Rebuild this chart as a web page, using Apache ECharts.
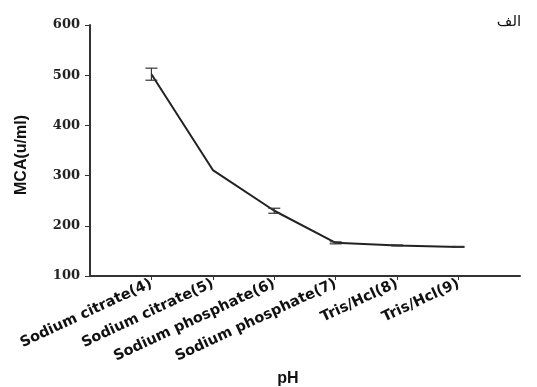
<!DOCTYPE html>
<html>
<head>
<meta charset="utf-8">
<script src="https://cdn.jsdelivr.net/npm/echarts@6/dist/echarts.min.js"></script>
<style>html,body{margin:0;padding:0;background:#fff}#c{width:537px;height:387px}</style>
</head>
<body>
<div id="c"></div>
<script>
const categories = ['', 'Sodium citrate(4)', 'Sodium citrate(5)', 'Sodium phosphate(6)', 'Sodium phosphate(7)', 'Tris/Hcl(8)', 'Tris/Hcl(9)', ''];
const mcaValues = ['-', 502, 311, 230, 166, 161, 158, '-'];
const mcaErrors = [0, 12, 0, 5, 2, 1, 1, 0];
const yTicks = [100, 200, 300, 400, 500, 600];

const errData = [];
for (let i = 0; i < categories.length; i++) {
  if (typeof mcaValues[i] === 'number' && mcaErrors[i] > 0) {
    errData.push([i, mcaValues[i] - mcaErrors[i], mcaValues[i] + mcaErrors[i]]);
  }
}
const inRange = (i) => i >= 1 && i <= categories.length - 2;

const chart = echarts.init(document.getElementById('c'));
chart.setOption({
  animation: false,
  backgroundColor: '#fff',
  grid: { left: 90, top: 25, right: 17, bottom: 111, containLabel: false },
  xAxis: {
    type: 'category',
    data: categories,
    boundaryGap: false,
    axisLine: { lineStyle: { color: '#333', width: 2 } },
    axisTick: { show: true, interval: (i) => inRange(i), length: 4, lineStyle: { color: '#333', width: 1 } },
    axisLabel: {
      interval: (i) => inRange(i), rotate: 25, margin: 7,
      fontFamily: 'DejaVu Sans, sans-serif', fontWeight: 'bold', fontSize: 14.5, color: '#111'
    },
    splitLine: { show: false }
  },
  yAxis: {
    type: 'value', min: 100, max: 600, interval: 100,
    axisLine: { show: true, lineStyle: { color: '#333', width: 2 } },
    axisTick: { show: true, length: 5, lineStyle: { color: '#333' } },
    axisLabel: {
      margin: 10, fontFamily: 'DejaVu Serif, serif', fontWeight: 'bold', fontSize: 13, color: '#222',
      formatter: (v) => yTicks.includes(v) ? String(v) : ''
    },
    splitLine: { show: false }
  },
  series: [
    {
      type: 'line', data: mcaValues, showSymbol: false, symbol: 'none',
      lineStyle: { color: '#222', width: 2 }, connectNulls: false
    },
    {
      type: 'custom', data: errData, z: 5,
      renderItem: function (params, api) {
        const x = api.value(0);
        const lo = api.coord([x, api.value(1)]);
        const hi = api.coord([x, api.value(2)]);
        const hw = 6;
        const st = { stroke: '#333', lineWidth: 1.2 };
        return {
          type: 'group', children: [
            { type: 'line', shape: { x1: lo[0], y1: lo[1], x2: hi[0], y2: hi[1] }, style: st },
            { type: 'line', shape: { x1: lo[0] - hw, y1: lo[1], x2: lo[0] + hw, y2: lo[1] }, style: st },
            { type: 'line', shape: { x1: hi[0] - hw, y1: hi[1], x2: hi[0] + hw, y2: hi[1] }, style: st }
          ]
        };
      }
    }
  ],
  graphic: [
    { type: 'text', x: 22, y: 155, rotation: Math.PI / 2, style: { text: 'MCA(u/ml)', font: 'bold 16px Liberation Sans, Arial, sans-serif', fill: '#111', align: 'center', verticalAlign: 'middle' } },
    { type: 'text', x: 288, y: 379, style: { text: 'pH', font: 'bold 16px Liberation Sans, Arial, sans-serif', fill: '#111', align: 'center', verticalAlign: 'middle' } },
    { type: 'text', x: 509, y: 22, style: { text: 'الف', font: '15px Noto Sans, DejaVu Sans, sans-serif', fill: '#111', align: 'center', verticalAlign: 'middle' } }
  ]
});
</script>
</body>
</html>
